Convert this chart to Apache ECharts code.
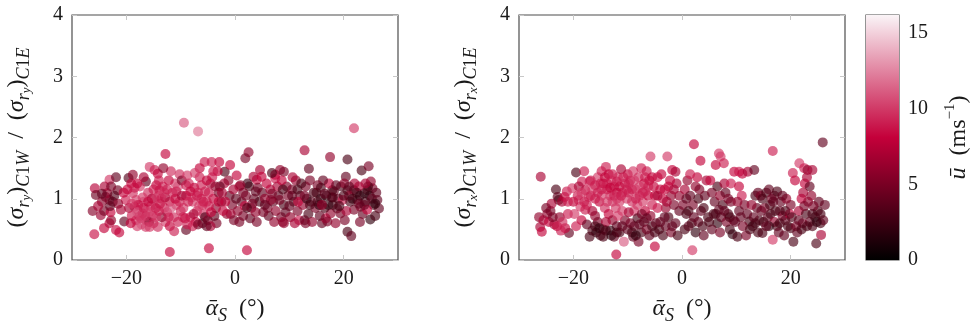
<!DOCTYPE html>
<html lang="en">
<head>
<meta charset="UTF-8">
<title>sigma ratio vs alpha</title>
<script src="https://cdn.jsdelivr.net/npm/echarts@6/dist/echarts.min.js"></script>
<style>html,body{margin:0;padding:0;background:#fff}#main{width:972px;height:330px}</style>
</head>
<body>
<div id="main"></div>
<script type="text/javascript">
// [alpha_S (deg), ratio, u (m/s)]
const ryPoints = [
[-25.9,0.42,8.5],[-26.2,0.80,5.5],[-25.8,1.17,7.5],[-25.6,1.06,4.5],[-24.7,0.73,6.5],[-24.1,0.80,5],[-24.1,0.52,8],[-23.1,0.60,7.5],[-22.8,0.65,6],[-21.9,0.49,8.5],[-21.3,0.45,8],[-23.1,1.31,10],[-21.9,1.35,4],[-23.8,1.03,4.5],[-23.1,0.98,5],[-22.5,0.95,4],[-23.5,1.09,6],[-21.6,1.14,4.5],[-21.0,0.82,7],[-20.4,0.63,4],[-20.1,0.98,9],[-24.5,0.95,5.5],[-22.2,1.05,3.5],[-25.2,0.88,7],[-22.9,0.78,8],[-24.0,1.20,7],
[-19.6,1.34,3.5],[-19.1,1.25,8],[-18.8,1.39,6],[-18.8,1.09,9.5],[-18.2,0.98,10],[-18.5,0.87,9.5],[-17.9,0.82,10],[-17.6,0.71,9],[-17.0,0.76,8],[-16.4,0.65,10],[-18.2,0.65,9.5],[-16.4,1.28,4],[-15.7,1.52,10],[-19.5,0.85,7],[-19.0,0.72,9],[-18.0,0.55,10],[-17.2,0.58,11],[-16.8,0.95,11],[-16.0,1.10,9.5],[-15.5,0.88,10],[-15.2,0.72,9],[-17.5,1.20,10],[-16.2,0.82,11],[-19.8,1.15,8],[-15.8,0.62,6],[-17.0,1.02,10],[-18.5,1.18,9],[-16.5,0.72,9.5],[-15.3,1.00,7],[-19.2,0.60,8],[-17.8,0.90,8],
[-14.8,1.47,9],[-14.2,1.41,8],[-12.8,1.73,8],[-14.5,1.22,8],[-13.9,1.14,8],[-13.3,1.20,9],[-15.0,0.60,9],[-14.2,0.54,9.5],[-15.7,0.54,10],[-16.4,0.54,10],[-14.6,0.85,8],[-13.8,0.92,8],[-13.0,0.85,9],[-12.5,0.78,10],[-12.0,0.95,8],[-11.5,1.10,9],[-11.0,1.25,10],[-12.2,1.30,8],[-10.5,1.20,11],[-10.8,0.90,10],[-11.3,0.70,9.5],[-12.8,0.62,10],[-13.5,0.70,6],[-12.0,0.55,8],[-10.5,0.62,9],[-11.8,1.45,9.5],[-14.0,1.05,10],[-12.9,1.02,7],[-10.2,1.40,9.5],[-11.2,0.47,9],[-12.0,0.13,8],[-9.4,2.24,11],[-13.2,1.50,6],[-10.0,0.80,9],[-14.8,1.00,9.5],
[-6.8,2.10,12],[-9.0,0.49,4],[-9.5,0.85,10],[-9.0,1.05,8],[-8.5,1.25,9.5],[-8.2,0.70,9],[-7.8,0.95,10],[-7.5,1.18,8],[-7.0,0.80,10],[-6.5,1.35,9],[-6.2,1.00,8],[-5.8,0.75,9.5],[-5.5,1.12,9],[-9.8,1.30,5],[-8.8,1.38,10],[-7.2,0.62,8],[-6.0,0.60,4],[-5.5,0.70,3],[-5.0,0.65,5],[-5.6,1.60,9],[-4.3,1.60,9],[-6.5,1.50,8],[-8.0,1.02,10],[-7.4,1.42,10],[-6.0,0.90,10],[-9.2,0.68,8],[-5.2,0.95,10],[-6.8,1.10,9],[-4.8,0.19,8],[-7.8,0.55,9],
[-2.9,1.60,8],[-1.9,1.44,3],[-0.9,1.55,8],[-4.5,1.25,7],[-4.0,1.00,8],[-3.5,0.85,6],[-3.4,0.60,5],[-3.0,1.10,5],[-2.5,0.95,4],[-2.0,1.25,7],[-1.5,0.75,6],[-1.0,1.05,4],[-0.5,0.90,5],[-4.2,1.35,9],[-3.8,0.72,4],[-2.2,0.80,8],[-1.2,1.30,6],[-0.3,1.15,7],[-4.8,0.88,9],[-3.2,1.45,8],[-2.8,1.20,4],[-0.8,0.75,7],[-1.8,0.95,8],[-4.5,0.55,7],
[2.2,0.16,8],[2.5,1.76,6],[1.9,1.66,5],[0.3,1.38,8],[0.8,1.20,7],[1.2,0.95,4],[0.5,0.80,6],[1.5,0.72,5],[2.0,1.05,5],[2.6,1.20,3],[3.0,0.85,6],[3.5,1.00,4],[4.0,1.31,8],[3.4,1.36,7],[4.6,1.47,7],[4.9,1.36,8],[2.8,0.68,4],[1.8,0.88,8],[3.8,0.78,6],[4.5,0.95,3],[5.0,1.10,4],[0.2,1.00,4],[2.3,1.25,2.5],[4.2,1.18,5],[1.0,1.22,6],[3.2,0.92,5],[0.8,0.62,5],
[7.4,1.33,9],[7.4,1.39,8],[8.3,1.47,6],[9.0,1.44,5],[5.5,1.00,6],[6.0,0.85,5],[6.5,1.15,7],[7.0,0.95,4],[7.5,0.80,6],[8.0,1.05,4],[8.5,0.70,5],[9.0,0.90,3],[9.5,1.20,5],[6.2,0.72,4],[5.8,1.25,8],[7.8,1.20,7],[8.8,0.62,6],[9.3,0.78,4],[6.8,1.42,3],[8.2,0.98,5],[9.8,1.05,5],[5.2,0.78,5],[7.2,0.62,6],[8.6,1.30,8],[6.6,0.98,6],
[11.8,0.65,9],[12.8,1.79,7],[13.6,1.49,4],[10.5,1.15,5],[10.8,0.95,3],[11.2,1.30,6],[11.5,0.80,5],[12.0,1.05,4],[12.5,0.90,6],[13.0,1.20,5],[13.5,0.75,3],[14.0,0.95,4],[14.5,1.10,3],[10.2,0.70,6],[12.8,0.65,4],[13.8,1.30,5],[14.8,0.85,5],[10.6,1.35,7],[11.6,0.95,8],[12.2,1.25,3],[14.2,0.62,6],[13.2,1.00,2],[10.0,0.88,4],[11.0,0.60,7],
[17.5,1.68,6],[15.0,1.10,3],[15.5,0.90,2],[16.0,0.60,4],[16.7,0.68,8],[17.0,0.63,5],[17.6,0.76,6],[18.8,0.84,4],[19.4,0.76,5],[18.2,1.12,4],[17.9,1.14,3],[17.3,1.25,8],[16.2,1.30,4],[15.8,1.00,2],[16.5,0.85,3],[17.8,1.02,5],[19.0,1.00,4],[19.8,0.98,9],[15.2,1.22,5],[16.8,1.05,2],[18.5,0.60,6],[15.6,0.72,4],[19.5,1.20,3],[18.0,0.90,3],
[20.7,1.64,3],[21.9,2.15,10],[23.3,1.46,3],[24.6,1.53,5],[20.7,0.46,3],[21.4,0.39,4],[24.9,0.66,2],[26.5,0.84,4],[26.2,0.98,4],[25.3,1.17,5],[25.0,1.28,6],[23.8,1.09,2],[24.4,1.14,3],[22.0,1.25,7],[21.9,1.14,4],[22.5,0.98,5],[23.1,0.87,6],[21.9,0.82,5],[20.4,1.36,4],[20.1,1.25,6],[20.7,1.14,3],[20.5,0.80,7],[23.5,0.75,4],[24.0,0.95,3],[25.5,0.90,3],[22.8,1.20,7],[24.8,1.05,2],[21.2,0.95,3],[26.0,1.10,4],[23.0,0.62,5],[25.8,0.72,3],[24.3,0.82,8],[21.0,1.05,6],
[-20.5,1.10,8],[-19.0,0.92,10],[-18.0,0.78,11],[-17.3,0.68,10],[-16.8,0.85,9],[-16.0,0.95,8],[-15.8,0.78,10],[-15.0,1.15,9],[-14.5,0.70,10],[-14.0,0.80,9],[-13.5,1.00,9],[-13.0,1.10,10],[-12.5,1.15,9],[-12.2,0.70,9],[-11.8,0.85,11],[-11.0,1.00,8],[-10.8,1.12,9],[-10.2,0.95,9],[-9.8,1.05,7],[-9.6,0.70,9],[-9.0,1.22,9],[-8.6,0.95,9],[-8.2,1.12,8],[-7.6,0.75,7],[-7.0,1.05,9],[-6.6,0.88,10],[-6.2,1.22,9],[-5.8,0.95,9],[-5.2,1.30,8],[-4.8,1.10,9],[-4.4,0.78,8],[-4.0,1.45,9],[-3.6,1.20,6],[-3.0,0.95,8],[-2.4,1.10,7],[-6.8,0.58,5],[-5.2,0.55,4],[-8.8,0.58,9],[-14.0,1.30,9],[-16.8,1.35,7],[-18.0,1.25,8],[-21.5,0.92,6],[-22.8,1.20,5],[-24.5,1.08,4],[-23.0,0.88,4],
[-0.2,0.65,5],[1.5,1.10,5],[2.2,0.85,3],[3.8,1.12,4],[5.5,0.90,4],[6.8,1.08,5],[8.8,1.15,3],[10.5,1.05,4],[11.5,1.15,3],[12.8,1.05,5],[13.8,0.90,3],[15.2,0.95,3],[15.8,1.18,3],[16.5,1.08,4],[17.2,0.90,2],[18.0,1.02,3],[18.6,1.22,4],[19.2,0.88,3],[20.0,1.05,3],[21.0,1.20,4],[21.6,1.00,2],[22.4,1.10,3],[23.0,1.05,2],[23.8,0.90,4],[24.5,1.20,3],[25.2,1.00,4],[25.8,0.92,2],[22.8,0.92,4],[24.0,1.25,7],[20.2,0.65,5],[16.0,0.90,6],[13.0,0.60,5],[9.0,0.60,6],[4.0,0.62,5]
];
const rxPoints = [
[-26.0,1.36,7],[-26.3,0.70,6],[-26.1,0.54,7],[-25.8,0.46,8],[-25.5,0.65,7],[-24.8,0.75,6],[-24.2,0.80,5],[-24.5,0.62,8],[-23.5,0.58,7],[-23.0,0.55,8],[-22.5,0.70,6],[-23.8,0.70,5],[-23.2,1.15,3],[-22.9,1.03,4],[-22.7,0.98,3],[-22.1,0.95,7],[-21.6,1.03,8],[-21.2,1.12,9],[-20.2,1.17,10],[-20.8,0.44,4],[-21.5,0.52,8],[-22.3,0.48,9],[-24.0,0.92,7],[-25.0,0.85,5],[-21.0,0.75,9],[-22.0,0.62,9.5],
[-19.5,1.43,3],[-19.0,0.98,11],[-18.7,0.87,10],[-18.4,1.28,9],[-17.8,1.14,8],[-17.2,1.03,10],[-17.8,0.82,9],[-16.5,0.80,7],[-16.0,0.72,6],[-15.5,0.62,5],[-16.5,0.48,3],[-15.8,0.45,2],[-15.0,0.40,3],[-14.5,0.50,4],[-16.0,1.22,8],[-15.5,1.35,10],[-17.0,1.28,9],[-18.5,0.65,8],[-19.5,0.55,9],[-19.8,0.75,10],[-17.5,0.58,4],[-16.8,1.05,9],[-15.2,0.95,8],[-18.0,1.45,9],[-19.0,1.20,7],[-20.0,0.95,8],[-17.0,0.38,3],
[-14.8,1.45,9],[-14.0,1.52,9],[-13.5,1.40,8],[-13.0,1.30,10],[-12.5,1.20,9],[-12.0,1.10,8],[-14.5,1.25,8],[-13.8,1.15,8],[-13.2,1.05,9],[-12.8,0.95,9.5],[-12.2,0.85,10],[-11.5,0.95,10],[-11.0,1.10,9],[-10.5,1.25,9],[-10.0,1.40,8],[-11.8,1.35,10],[-11.2,1.48,7],[-14.2,0.85,9.5],[-13.5,0.75,8],[-12.8,0.65,6],[-12.0,0.55,4],[-11.5,0.45,3],[-13.2,0.48,2],[-14.5,0.38,3],[-12.5,0.38,4],[-10.7,0.30,11],[-12.1,0.09,8],[-10.5,0.65,5],[-11.0,0.80,10],[-10.2,1.00,10],[-14.8,1.05,10],[-13.8,0.95,10],[-12.0,1.28,9],[-14.0,0.62,7],[-11.8,0.72,10],
[-9.5,1.30,9],[-9.0,1.45,10],[-8.5,1.15,10],[-8.0,1.35,9.5],[-7.5,1.50,9],[-7.0,1.25,8],[-6.5,1.45,9],[-5.8,1.69,10],[-6.0,1.30,8],[-9.8,1.10,9],[-9.2,0.95,9.5],[-8.8,0.80,10],[-8.2,0.90,10],[-7.8,1.05,9],[-7.2,0.95,10],[-6.8,0.80,8],[-6.2,1.05,8],[-5.5,0.90,9],[-9.5,0.60,5],[-8.8,0.55,4],[-8.2,0.68,3],[-7.5,0.45,3],[-7.0,0.62,4],[-6.5,0.50,5],[-6.0,0.40,4],[-5.5,0.55,3],[-9.0,0.38,4],[-5.0,0.22,8],[-8.0,0.30,5],[-6.8,1.12,9.5],[-5.2,1.20,8],[-5.8,0.72,6],[-9.8,0.78,7],[-7.4,0.75,5],
[-2.7,1.69,10],[-1.8,1.47,8],[-1.2,1.44,7],[-4.5,1.35,9],[-4.0,1.15,8],[-3.5,1.00,8],[-3.0,0.85,6],[-2.5,1.20,8],[-2.0,1.05,6],[-1.5,0.90,5],[-1.0,1.25,7],[-0.5,0.80,4],[-4.8,0.60,4],[-4.2,0.50,3],[-3.5,0.40,3],[-3.0,0.55,4],[-2.5,0.70,3],[-2.0,0.45,5],[-1.2,0.60,4],[-0.5,1.05,6],[-4.5,0.85,9],[-3.8,1.40,8],[-1.5,1.15,7],[-0.8,0.40,3],[-2.8,0.95,7],
[2.2,1.89,8],[1.9,0.16,10],[3.4,1.62,8],[0.5,1.15,7],[1.0,1.30,6],[1.5,1.05,4],[2.0,0.90,5],[2.5,1.20,6],[3.0,1.00,3],[3.5,0.80,4],[0.8,0.75,3],[1.2,0.55,4],[1.8,0.60,3],[2.5,0.45,2],[3.0,0.62,4],[3.8,0.55,3],[4.2,1.05,4],[4.5,1.30,7],[4.8,0.70,3],[0.2,0.90,5],[2.8,1.35,8],[1.5,1.40,9],[4.0,0.40,4],[3.2,1.15,5],[0.5,0.50,3],
[6.8,1.74,10],[7.1,1.69,10],[7.7,1.58,9],[6.2,1.55,8],[9.6,1.44,8],[5.5,1.10,5],[6.0,0.95,4],[6.5,1.20,3],[7.0,1.05,6],[7.5,0.90,3],[8.0,1.10,4],[8.5,0.75,3],[9.0,0.95,5],[9.5,0.65,4],[5.8,0.75,3],[6.5,0.60,2],[7.2,0.70,4],[8.2,0.62,5],[8.8,0.50,3],[9.3,0.42,2],[10.2,0.38,3],[7.8,1.25,7],[5.2,1.30,8],[9.0,1.25,9],[6.8,0.82,4],[8.5,1.00,5],[5.5,0.50,4],[7.0,0.45,5],
[10.5,1.44,9],[11.1,1.41,8],[12.1,1.44,7],[13.3,1.47,4],[10.5,1.20,8],[11.0,1.05,9],[11.5,0.90,5],[12.0,0.75,4],[12.4,0.63,3],[10.8,0.70,4],[11.2,0.55,5],[13.5,1.05,3],[14.0,1.10,4],[14.5,1.05,5],[13.8,0.85,4],[14.2,0.65,3],[13.0,0.55,2],[14.8,0.44,3],[14.0,0.45,3],[12.8,0.90,6],[13.2,0.70,4],[10.2,0.95,6],[11.8,0.40,5],[14.6,0.80,4],
[16.7,1.78,9],[15.5,1.10,3],[16.0,1.15,4],[16.5,1.00,5],[17.0,1.05,4],[17.5,1.12,3],[15.2,0.85,5],[15.8,0.70,4],[16.3,0.75,3],[16.7,0.33,10],[17.0,0.62,6],[17.5,0.55,3],[16.0,0.55,2],[18.0,0.80,4],[18.5,0.72,5],[19.0,0.65,4],[19.5,0.55,3],[18.2,0.95,4],[19.2,1.00,6],[20.0,0.90,5],[17.8,0.45,4],[15.0,0.62,3],[18.8,0.40,4],[19.8,0.75,8],
[20.4,1.42,9],[21.6,1.58,10],[22.5,1.50,9],[23.1,1.47,6],[24.0,1.47,7],[25.9,1.92,4],[20.5,0.30,3],[20.0,0.52,3],[21.0,0.55,5],[21.5,0.80,7],[22.0,1.00,8],[22.3,1.10,7],[22.6,1.25,8],[23.0,1.35,7],[23.5,1.20,4],[23.2,0.95,6],[22.8,0.75,3],[23.5,0.62,4],[24.0,0.55,3],[24.5,0.70,2],[25.0,0.80,3],[25.5,0.60,3],[26.0,0.65,4],[25.6,0.41,7],[24.7,0.27,3],[25.2,0.95,4],[21.2,0.45,4],[20.8,1.30,8],[24.2,0.88,5],[26.3,0.90,4],[22.2,0.60,5],
[-21.0,0.95,9],[-19.2,1.05,9],[-18.5,1.10,10],[-18.0,0.95,9],[-17.5,0.90,9],[-16.8,1.30,9],[-16.5,1.15,10],[-16.0,1.00,9],[-15.5,1.10,9],[-15.0,1.25,9],[-14.8,1.15,9],[-14.2,1.35,8],[-13.8,1.25,9],[-13.2,1.18,8],[-12.8,1.40,9],[-12.5,1.05,9],[-12.0,1.00,10],[-11.5,1.20,8],[-11.2,1.05,9],[-10.8,1.35,9],[-10.2,1.15,9],[-9.8,1.25,9],[-9.2,1.15,9],[-8.8,1.30,10],[-8.5,1.00,9],[-7.8,1.20,10],[-7.2,1.10,9],[-6.8,1.35,9],[-6.2,1.20,9],[-5.5,1.35,8],[-5.0,1.05,8],[-4.5,1.05,7],[-3.2,1.15,8],[-2.2,1.30,8],
[-16.0,0.55,3],[-15.2,0.52,2],[-14.0,0.48,3],[-13.0,0.40,2],[-12.0,0.45,3],[-11.0,0.55,4],[-10.0,0.50,4],[-9.2,0.45,3],[-8.5,0.40,2],[-7.8,0.58,4],[-6.5,0.68,4],[-5.0,0.45,3],[-4.0,0.62,4],[-3.2,0.70,4],[-1.8,0.55,4],
[0.8,1.00,4],[1.2,0.80,3],[2.2,0.70,4],[4.0,0.85,3],[5.0,0.62,3],[6.2,0.75,3],[7.8,0.80,4],[8.8,0.70,3],[9.8,0.62,4],[10.5,0.80,4],[12.5,0.50,3],[13.5,0.60,3],[15.5,0.55,4],[16.2,0.90,3],[17.2,0.80,3],[18.0,0.60,3],[19.0,0.80,3],[20.2,0.70,3],[21.5,0.65,4],[22.0,0.50,3],[23.0,0.55,3],[24.0,0.75,3],[24.8,0.62,2],[25.5,0.75,3],[18.5,1.05,4],[16.8,0.95,4],[14.8,1.00,3],[22.5,0.88,5],[23.8,1.05,6]
];
const xTicks = [-20, 0, 20];
const yTicks = [0, 1, 2, 3, 4];
const uTicks = [0, 5, 10, 15];
const uMax = 16.2;
const uColors = ['#000000', '#c4003a', '#faf4f7'];

const serif = '"Liberation Serif", "DejaVu Serif", serif';
const txt = '#1a1a1a';
const frame = '#4d4d4d';
const tickGrey = '#c8c8c8';

function minus(v) { return v < 0 ? '\u2212' + Math.abs(v) : String(v); }

function yName(c) {
    return '{n|(}{m|\u03c3}{s|r}{ss|' + c + '}{n|)}{s|C}{su|1}{s|W}{n|  /  (}{m|\u03c3}{s|r}{ss|' + c + '}{n|)}{s|C}{su|1}{s|E}';
}
const richMath = {
    n: {fontFamily: serif, fontSize: 24, color: txt, lineHeight: 32},
    m: {fontFamily: serif, fontSize: 24, fontStyle: 'italic', color: txt, lineHeight: 32},
    s: {fontFamily: serif, fontSize: 18, fontStyle: 'italic', color: txt, lineHeight: 16, verticalAlign: 'bottom'},
    su: {fontFamily: serif, fontSize: 18, color: txt, lineHeight: 16, verticalAlign: 'bottom'},
    ss: {fontFamily: serif, fontSize: 13, fontStyle: 'italic', color: txt, lineHeight: 6, verticalAlign: 'bottom'},
    sup: {fontFamily: serif, fontSize: 15, color: txt, lineHeight: 14, verticalAlign: 'top'}
};
const xName = '{m|\u1fb1}{s|S}{n|  (\u00b0)}';

function xAxisPair(gi) {
    return [{
        type: 'value', gridIndex: gi, min: -30, max: 30, position: 'bottom',
        axisLine: {show: false, onZero: false}, splitLine: {show: false},
        axisTick: {inside: true, length: 5, lineStyle: {color: tickGrey}, customValues: xTicks},
        axisLabel: {customValues: xTicks, formatter: minus, fontFamily: serif, fontSize: 20, color: txt, margin: 9},
        name: xName, nameLocation: 'middle', nameGap: 33, nameTextStyle: {rich: richMath}
    }, {
        type: 'value', gridIndex: gi, min: -30, max: 30, position: 'top',
        axisLine: {show: false, onZero: false}, splitLine: {show: false}, axisLabel: {show: false},
        axisTick: {inside: true, length: 5, lineStyle: {color: tickGrey}, customValues: xTicks}
    }];
}
function yAxisPair(gi, c) {
    return [{
        type: 'value', gridIndex: gi, min: 0, max: 4, interval: 1, position: 'left',
        axisLine: {show: false, onZero: false}, splitLine: {show: false},
        axisTick: {inside: true, length: 5, lineStyle: {color: tickGrey}},
        axisLabel: {fontFamily: serif, fontSize: 20, color: txt, margin: 9},
        name: yName(c), nameLocation: 'middle', nameRotate: 90, nameGap: 39, nameTextStyle: {rich: richMath}
    }, {
        type: 'value', gridIndex: gi, min: 0, max: 4, interval: 1, position: 'right',
        axisLine: {show: false, onZero: false}, splitLine: {show: false}, axisLabel: {show: false},
        axisTick: {inside: true, length: 5, lineStyle: {color: tickGrey}}
    }];
}

const chart = echarts.init(document.getElementById('main'), null, {renderer: 'canvas'});
const gridBox = {show: true, borderColor: frame, borderWidth: 1.2, backgroundColor: 'transparent'};
const option = {
    animation: false,
    grid: [
        Object.assign({left: 72, top: 15, width: 326, height: 245}, gridBox),
        Object.assign({left: 519, top: 15, width: 326, height: 245}, gridBox),
        Object.assign({left: 866, top: 15, width: 33, height: 245}, gridBox)
    ],
    xAxis: [].concat(xAxisPair(0), xAxisPair(1), [{
        type: 'category', gridIndex: 2, data: ['u'], show: false
    }]),
    yAxis: [].concat(yAxisPair(0, 'y'), yAxisPair(1, 'x'), [{
        type: 'value', gridIndex: 2, min: 0, max: uMax, position: 'right',
        axisLine: {show: false, onZero: false}, splitLine: {show: false},
        axisTick: {inside: true, length: 7, lineStyle: {color: '#9a6a7a'}, customValues: [5, 10, 15]},
        axisLabel: {customValues: uTicks, fontFamily: serif, fontSize: 20, color: txt, margin: 9},
        name: '{m|\u016b}{n|  (ms}{sup|\u22121}{n|)}', nameLocation: 'middle', nameRotate: 90, nameGap: 44,
        nameTextStyle: {rich: richMath}
    }, {
        type: 'value', gridIndex: 2, min: 0, max: uMax, position: 'left',
        axisLine: {show: false, onZero: false}, splitLine: {show: false}, axisLabel: {show: false},
        axisTick: {inside: true, length: 7, lineStyle: {color: '#9a6a7a'}, customValues: [5, 10, 15]}
    }]),
    visualMap: {
        type: 'continuous', show: false, min: 0, max: uMax, dimension: 2,
        seriesIndex: [0, 1], inRange: {color: uColors}
    },
    series: [{
        type: 'scatter', xAxisIndex: 0, yAxisIndex: 0, data: ryPoints,
        symbolSize: 10, itemStyle: {opacity: 0.64}
    }, {
        type: 'scatter', xAxisIndex: 2, yAxisIndex: 2, data: rxPoints,
        symbolSize: 10, itemStyle: {opacity: 0.64}
    }, {
        type: 'bar', xAxisIndex: 4, yAxisIndex: 4, data: [uMax], barWidth: '100%', silent: true,
        itemStyle: {color: new echarts.graphic.LinearGradient(0, 1, 0, 0, [
            {offset: 0, color: uColors[0]}, {offset: 0.5, color: uColors[1]}, {offset: 1, color: uColors[2]}
        ])}
    }]
};
chart.setOption(option);
</script>
</body>
</html>
